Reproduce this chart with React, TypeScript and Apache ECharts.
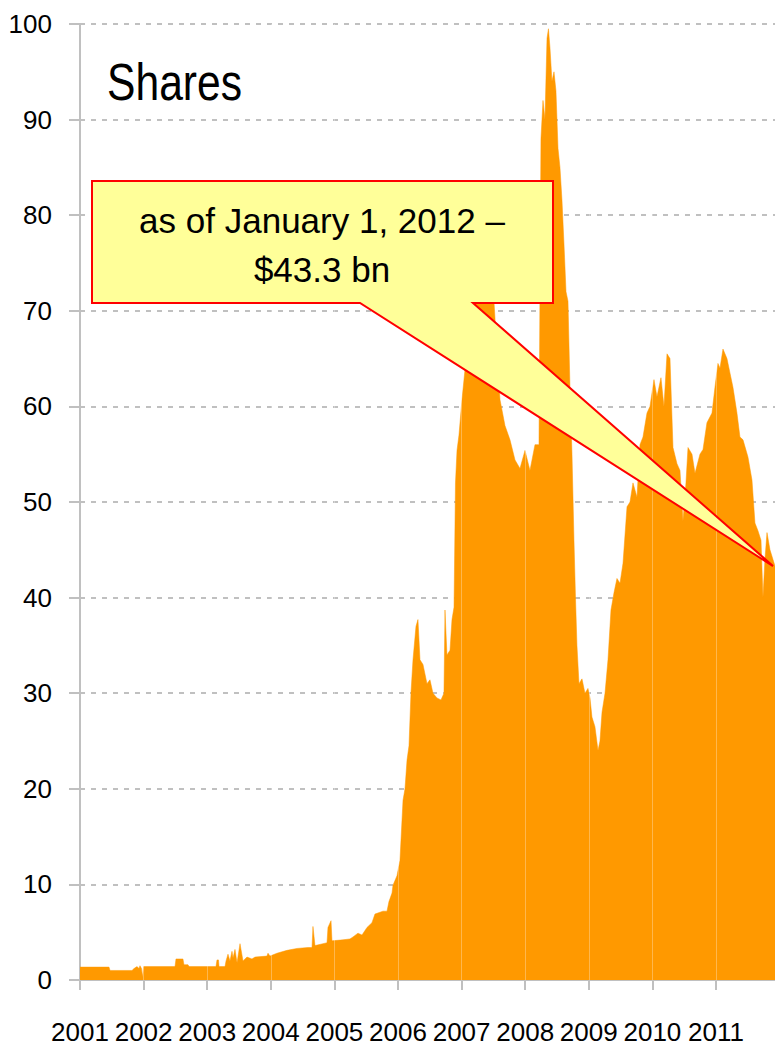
import React, { useEffect, useRef } from "react";
import * as echarts from "echarts";

// Decimal year of each reading and share value ($ bn)
const years = [
  2001.0, 2001.456, 2001.472, 2001.818, 2001.849, 2001.896, 2001.928, 2001.943, 2001.967, 2001.983, 2002.0,
  2002.494, 2002.509, 2002.619, 2002.635, 2002.698, 2002.714,
  2003.138, 2003.154, 2003.178, 2003.186, 2003.28, 2003.296, 2003.327, 2003.358, 2003.39, 2003.406, 2003.437,
  2003.469, 2003.516, 2003.563, 2003.626, 2003.704, 2003.752, 2003.94, 2003.956, 2003.987,
  2004.097, 2004.255, 2004.412, 2004.585, 2004.648, 2004.663, 2004.695, 2004.821, 2004.884, 2004.899, 2004.947,
  2004.962, 2005.135, 2005.245, 2005.292, 2005.371, 2005.434, 2005.513, 2005.591, 2005.638, 2005.764, 2005.827,
  2005.858, 2005.906, 2005.921, 2005.984,
  2006.031, 2006.079, 2006.11, 2006.142, 2006.173, 2006.204, 2006.236, 2006.283, 2006.314, 2006.346, 2006.393,
  2006.456, 2006.503, 2006.55, 2006.613, 2006.676, 2006.723, 2006.739, 2006.77, 2006.818, 2006.849, 2006.881,
  2006.904, 2006.928, 2006.959,
  2007.006, 2007.053, 2007.101, 2007.148, 2007.211, 2007.289, 2007.368, 2007.447, 2007.509, 2007.572, 2007.604,
  2007.682, 2007.761, 2007.84, 2007.918, 2007.997,
  2008.075, 2008.154, 2008.217, 2008.248, 2008.28, 2008.311, 2008.343, 2008.366, 2008.39, 2008.421, 2008.453,
  2008.484, 2008.516, 2008.547, 2008.579, 2008.61, 2008.642, 2008.673, 2008.704, 2008.736, 2008.767, 2008.791,
  2008.814, 2008.846, 2008.893, 2008.94, 2008.987,
  2009.019, 2009.05, 2009.097, 2009.145, 2009.176, 2009.208, 2009.255, 2009.302, 2009.349, 2009.396, 2009.443,
  2009.491, 2009.538, 2009.601, 2009.648, 2009.695, 2009.758, 2009.805, 2009.852, 2009.915, 2009.962,
  2010.025, 2010.072, 2010.135, 2010.182, 2010.23, 2010.277, 2010.324, 2010.387, 2010.434, 2010.481, 2010.528,
  2010.56, 2010.623, 2010.67, 2010.748, 2010.796, 2010.858, 2010.937, 2010.984,
  2011.031, 2011.063, 2011.11, 2011.173, 2011.22, 2011.267, 2011.33, 2011.377, 2011.425, 2011.503, 2011.566,
  2011.613, 2011.66, 2011.708, 2011.739, 2011.77, 2011.802, 2011.849, 2011.928,
];

const values = [
  1.35, 1.35, 1.0, 1.0, 1.2, 1.4, 1.2, 1.5, 1.2, 0.3, 1.4,
  1.4, 2.2, 2.2, 1.6, 1.6, 1.4,
  1.4, 2.1, 2.1, 1.4, 1.4, 2.0, 2.7, 2.0, 3.0, 2.3, 3.2,
  1.8, 3.8, 2.0, 2.4, 2.2, 2.4, 2.5, 2.8, 2.5,
  2.8, 3.1, 3.3, 3.4, 3.4, 5.6, 3.6, 3.8, 3.9, 5.5, 6.2,
  4.1, 4.2, 4.3, 4.5, 4.9, 4.7, 5.5, 6.0, 6.9, 7.2, 7.2,
  8.2, 9.1, 9.9, 10.9,
  12.5, 18.8, 20, 23, 24.5, 30, 33.5, 37, 37.7, 33.5, 33,
  31, 31.4, 30, 29.5, 29.3, 30, 38.7, 34, 34.5, 37.7, 39,
  52, 55.4, 57,
  60.7, 63.8, 68, 71, 72.5, 74, 73, 72, 71, 64, 60.7,
  58, 56.5, 54.4, 53.5, 55.4,
  53.3, 56, 56, 88, 92, 90, 98.5, 99.5, 97.5, 94, 95,
  93, 87, 85, 81.5, 77, 72, 71, 62, 55, 46, 40,
  35, 31, 31.5, 30, 30.5,
  29.5, 27.5, 26.5, 24, 25, 28, 30, 33.5, 38.7, 40.5, 42,
  41.5, 43.6, 49.5, 50, 52, 50.5, 56, 56.8, 59.3, 60,
  62.8, 61, 63, 60, 65.5, 65, 55.7, 54, 53.3, 48, 52,
  55.7, 55, 53, 55, 55.5, 58.3, 59.3, 62,
  64.5, 64, 66, 65, 63.5, 62, 59.3, 56.8, 56.5, 54.7, 52.3,
  47.8, 47, 46, 40, 44, 46.8, 45, 43.3,
];

const tickYears = [2001, 2002, 2003, 2004, 2005, 2006, 2007, 2008, 2009, 2010, 2011];
const yearBoundaries = [2002, 2003, 2004, 2005, 2006, 2007, 2008, 2009, 2010, 2011];
const titleText = "Shares";
const calloutLines = ["as of January 1, 2012 \u2013", "$43.3 bn"];

const SANS = "'Liberation Sans', Arial, sans-serif";
const AXIS_GRAY = "#c0c0c0";

export default function App() {
  const ref = useRef<HTMLDivElement>(null);

  useEffect(() => {
    document.body.style.margin = "0";
    if (!ref.current) return;
    const chart = echarts.init(ref.current, undefined, { renderer: "svg" });
    const data = years.map((y, i) => [y, values[i]]);
    chart.setOption({
      animation: false,
      grid: { left: 80, right: 0, top: 24, bottom: 66 },
      xAxis: {
        type: "value",
        min: 2001,
        max: years[years.length - 1],
        axisLine: { show: true, lineStyle: { color: AXIS_GRAY, width: 2 } },
        axisTick: { show: true, customValues: tickYears, length: 10, lineStyle: { color: AXIS_GRAY, width: 2 } },
        axisLabel: {
          customValues: tickYears,
          showMinLabel: true,
          showMaxLabel: true,
          hideOverlap: false,
          formatter: (v: number) => String(v),
          margin: 39,
          fontSize: 26,
          fontFamily: SANS,
          color: "#000",
        },
        splitLine: { show: false },
      },
      yAxis: {
        type: "value",
        min: 0,
        max: 100,
        interval: 10,
        axisLine: { show: true, lineStyle: { color: AXIS_GRAY, width: 2 } },
        axisTick: { show: true, length: 11, lineStyle: { color: AXIS_GRAY, width: 2 } },
        axisLabel: { margin: 28, fontSize: 26, fontFamily: SANS, color: "#000" },
        splitLine: { show: true, lineStyle: { color: AXIS_GRAY, width: 2, type: [5, 6] } },
      },
      series: [
        {
          type: "line",
          data,
          symbol: "none",
          showSymbol: false,
          lineStyle: { width: 0.5, color: "#ff9900" },
          areaStyle: { color: "#ff9900", opacity: 1 },
          markLine: {
            silent: true,
            symbol: ["none", "none"],
            label: { show: false },
            lineStyle: { color: "rgba(255,255,255,0.3)", width: 1, type: "solid" },
            data: yearBoundaries.map((y) => ({ xAxis: y })),
          },
        },
      ],
    });

    const tip = chart.convertToPixel({ gridIndex: 0 }, [years[years.length - 1], values[values.length - 1]]) as number[];
    const tx = Math.min(tip[0], 773);
    chart.setOption({
      graphic: [
        {
          type: "text",
          x: 107,
          y: 82,
          z: 100,
          scaleX: 0.82,
          style: {
            text: titleText,
            fontSize: 52,
            fontFamily: SANS,
            fill: "#000",
            align: "left",
            verticalAlign: "middle",
          },
        },
        {
          type: "polygon",
          z: 100,
          shape: {
            points: [
              [92, 181],
              [553, 181],
              [553, 303],
              [473, 303],
              [tx, tip[1]],
              [360, 303],
              [92, 303],
            ],
          },
          style: { fill: "#ffff99", stroke: "#ff0000", lineWidth: 2 },
        },
        {
          type: "text",
          x: 322,
          y: 245,
          z: 101,
          style: {
            text: calloutLines.join("\n"),
            fontSize: 35,
            lineHeight: 49,
            fontFamily: SANS,
            fill: "#000",
            align: "center",
            verticalAlign: "middle",
          },
        },
      ],
    });

    return () => chart.dispose();
  }, []);

  return <div ref={ref} style={{ width: 775, height: 1046 }} />;
}
